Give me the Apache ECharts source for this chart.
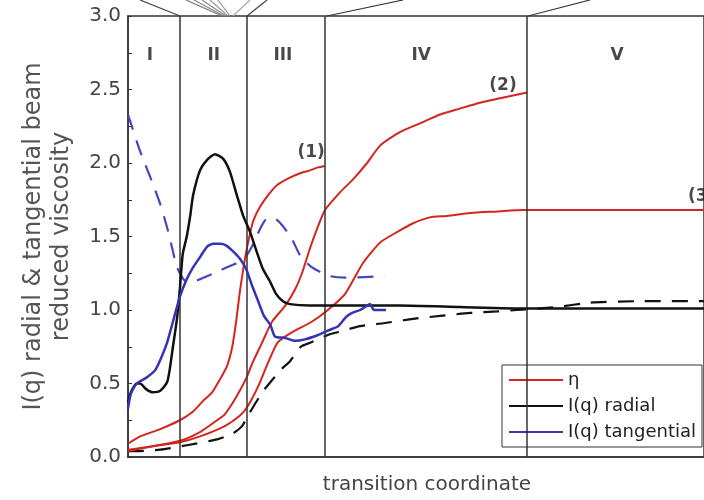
<!DOCTYPE html>
<html>
<head>
<meta charset="utf-8">
<script src="https://cdn.jsdelivr.net/npm/echarts@6/dist/echarts.min.js"></script>
<style>
  html, body { margin: 0; padding: 0; background: #fff; }
  #chart { width: 704px; height: 500px; }
</style>
</head>
<body>
<div id="chart"></div>
<script>
// Transition coordinate runs 0..100 across the plot; values are reduced units.
const yMin = 0, yMax = 3, yStep = 0.5;
const dividers = [9.0, 20.7, 34.2, 69.3];
const regionNames = ['I', 'II', 'III', 'IV', 'V'];
const regionCenters = [3.8, 14.9, 26.9, 50.9, 84.9];
const regionLabelY = 2.73;
const curveTags = ['(1)', '(2)', '(3)'];
const curveTagPos = [[31.8, 2.07], [65.1, 2.53], [99.6, 1.77]];

// reduced viscosity, three runs
const eta1 = [[0,0.09],[2.1,0.14],[5.6,0.19],[9.0,0.25],[11.3,0.31],[13.0,0.38],[14.6,0.44],[16.0,0.53],[17.2,0.62],[18.1,0.75],[18.8,0.93],[19.4,1.12],[20.1,1.30],[20.8,1.45],[21.7,1.60],[22.9,1.70],[24.3,1.78],[25.9,1.85],[28.1,1.90],[29.9,1.93],[31.6,1.95],[33.0,1.97],[34.2,1.98]];
const eta2 = [[0,0.05],[3.8,0.07],[9.0,0.11],[12.5,0.17],[15.1,0.24],[16.8,0.29],[18.2,0.37],[19.4,0.45],[20.7,0.55],[21.5,0.63],[23.3,0.78],[25.0,0.92],[27.3,1.03],[29.0,1.14],[30.2,1.25],[31.6,1.42],[33.0,1.57],[34.2,1.68],[36.8,1.80],[39.1,1.89],[41.5,2.00],[43.8,2.12],[47.2,2.21],[50.7,2.27],[54.2,2.33],[57.6,2.37],[61.1,2.41],[64.6,2.44],[69.3,2.48]];
const eta3 = [[0,0.04],[3.8,0.07],[9.0,0.10],[12.5,0.14],[16.8,0.21],[19.4,0.28],[20.7,0.34],[22.6,0.48],[24.3,0.64],[26.0,0.78],[28.5,0.85],[31.9,0.92],[34.7,1.00],[37.7,1.11],[40.8,1.32],[43.8,1.46],[46.7,1.53],[49.5,1.59],[52.4,1.63],[55.4,1.64],[59.4,1.66],[64.1,1.67],[68.6,1.68],[81.9,1.68],[100,1.68]];

// radial beam intensity
const radial = [[0,0.37],[0.5,0.44],[1.5,0.50],[2.1,0.50],[3.2,0.46],[4.3,0.44],[5.6,0.45],[6.8,0.51],[7.3,0.61],[7.8,0.75],[8.5,0.94],[9.0,1.14],[9.5,1.38],[10.2,1.50],[10.8,1.64],[11.3,1.78],[12.5,1.95],[13.7,2.02],[15.1,2.06],[16.5,2.03],[17.7,1.94],[18.9,1.78],[20.0,1.64],[21.2,1.53],[22.4,1.39],[23.4,1.28],[24.7,1.19],[25.7,1.11],[26.9,1.06],[28.1,1.04],[31.6,1.03],[34.2,1.03],[47.2,1.03],[57.6,1.02],[69.3,1.01],[81.9,1.01],[100,1.01]];
const radialDashed = [[0,0.04],[1.5,0.04],[5.6,0.05],[10.2,0.08],[15.5,0.12],[18.2,0.16],[19.8,0.21],[20.8,0.28],[23.3,0.44],[24.1,0.48],[26.7,0.60],[28.1,0.65],[30.0,0.75],[31.8,0.78],[34.7,0.83],[36.5,0.85],[40.3,0.89],[44.3,0.91],[49.5,0.94],[54.2,0.96],[59.4,0.98],[64.1,0.99],[67.5,1.00],[74.5,1.02],[80.2,1.05],[88.9,1.06],[100,1.06]];

// tangential beam intensity
const tangential = [[0,0.33],[0.5,0.43],[1.5,0.50],[3.2,0.54],[4.7,0.59],[5.6,0.66],[6.8,0.78],[7.8,0.92],[9.0,1.09],[10.2,1.21],[11.3,1.29],[12.5,1.36],[13.7,1.43],[14.8,1.45],[16.0,1.45],[17.0,1.44],[18.2,1.40],[19.4,1.35],[20.5,1.28],[21.5,1.17],[22.6,1.06],[23.6,0.96],[24.7,0.90],[25.5,0.82],[27.3,0.81],[29.0,0.79],[30.7,0.80],[33.0,0.83],[34.7,0.86],[36.5,0.89],[37.8,0.95],[38.9,0.98],[40.3,1.00],[41.5,1.03],[42.0,1.04],[42.7,1.00],[44.8,1.00]];
const tangentialDashed = [[0,2.33],[2.1,2.08],[4.3,1.86],[5.6,1.72],[6.8,1.56],[7.8,1.40],[8.5,1.29],[10.2,1.19],[11.9,1.20],[13.7,1.23],[15.5,1.26],[17.7,1.30],[20.0,1.34],[21.5,1.43],[22.9,1.55],[24.1,1.62],[25.5,1.62],[26.9,1.57],[28.5,1.48],[29.9,1.37],[31.6,1.30],[33.3,1.26],[35.1,1.23],[37.7,1.22],[44.6,1.23]];

const RED = '#d3261e', BLACK = '#111111', BLUE = '#3434b4';
const FONT = 'DejaVu Sans';

function curve(name, data, color, width, dashed, z) {
  return {
    name: name, type: 'line', data: data, symbol: 'none', smooth: 0.2,
    z: z || 3,
    lineStyle: { color: color, width: width, type: dashed ? [16, 11] : 'solid' },
    itemStyle: { color: color }
  };
}

// thin strokes that run into the plot's top edge from the sketches above it
const topStrokes = [
  [140, 0, 180, 16, '#444'],
  [186, 0, 222, 16, '#777'],
  [194, 0, 224, 16, '#888'],
  [202, 0, 226, 16, '#888'],
  [210, 0, 228, 16, '#999'],
  [218, 0, 230, 16, '#999'],
  [250, 0, 233, 16, '#9ab'],
  [267, 0, 247, 16, '#444'],
  [403, 0, 327, 16, '#333'],
  [590, 0, 528, 16, '#333']
];

const chart = echarts.init(document.getElementById('chart'), null, { renderer: 'canvas' });
chart.setOption({
  animation: false,
  backgroundColor: '#fff',
  grid: { left: 128, top: 16, right: -2, bottom: 42, show: true, borderColor: '#333', borderWidth: 1.5 },
  xAxis: {
    type: 'value', min: 0, max: 100,
    name: 'transition coordinate', nameLocation: 'middle', nameGap: 18,
    nameTextStyle: { fontFamily: FONT, fontSize: 20, color: '#444', padding: [0, 0, 0, 22] },
    axisLine: { lineStyle: { color: '#333', width: 1.5 } },
    axisTick: { show: false }, axisLabel: { show: false }, splitLine: { show: false }
  },
  yAxis: {
    type: 'value', min: yMin, max: yMax, interval: yStep,
    name: 'I(q) radial & tangential beam\nreduced viscosity',
    nameLocation: 'middle', nameGap: 52, nameRotate: 90,
    nameTextStyle: { fontFamily: FONT, fontSize: 24, lineHeight: 28, color: '#555', align: 'center' },
    axisLine: { show: true, lineStyle: { color: '#333', width: 1.5 } },
    axisTick: { show: true, inside: true, length: 4, lineStyle: { color: '#333' } },
    minorTick: { show: true, splitNumber: 2, length: 4, lineStyle: { color: '#333' } },
    axisLabel: { fontFamily: FONT, fontSize: 20, color: '#444', margin: 7, formatter: v => v.toFixed(1) },
    splitLine: { show: false }
  },
  legend: {
    data: ['η', 'I(q) radial', 'I(q) tangential'],
    orient: 'vertical', left: 502, top: 365,
    itemWidth: 54, itemHeight: 14, itemGap: 8,
    padding: [6, 6, 6, 6],
    itemStyle: { opacity: 0 },
    backgroundColor: '#fff', borderColor: '#333', borderWidth: 1,
    textStyle: { fontFamily: FONT, fontSize: 18, lineHeight: 18, color: '#222' }
  },
  graphic: topStrokes.map(s => ({
    type: 'line', shape: { x1: s[0], y1: s[1], x2: s[2], y2: s[3] },
    style: { stroke: s[4], lineWidth: 1.2 }, silent: true
  })),
  series: [
    {
      name: 'regions', type: 'scatter', symbolSize: 0, z: 1,
      data: regionNames.map((n, i) => [regionCenters[i], regionLabelY, n])
        .concat(curveTags.map((t, i) => [curveTagPos[i][0], curveTagPos[i][1], t])),
      label: {
        show: true, position: 'inside', formatter: p => p.data[2],
        fontFamily: FONT, fontWeight: 'bold', fontSize: 17, color: '#1a1a1a'
      },
      markLine: {
        silent: true, symbol: ['none', 'none'], label: { show: false },
        lineStyle: { color: '#333', width: 1.5, type: 'solid' },
        data: dividers.map(v => ({ xAxis: v }))
      }
    },
    curve('radial dashed', radialDashed, BLACK, 2.2, true, 3),
    curve('tangential dashed', tangentialDashed, '#4646c0', 2.2, true, 3),
    curve('η', eta1, RED, 2, false, 4),
    curve('η', eta2, RED, 2, false, 4),
    curve('η', eta3, RED, 2, false, 4),
    curve('I(q) radial', radial, BLACK, 2.5, false, 5),
    curve('I(q) tangential', tangential, BLUE, 2.5, false, 5)
  ]
});
</script>
</body>
</html>
